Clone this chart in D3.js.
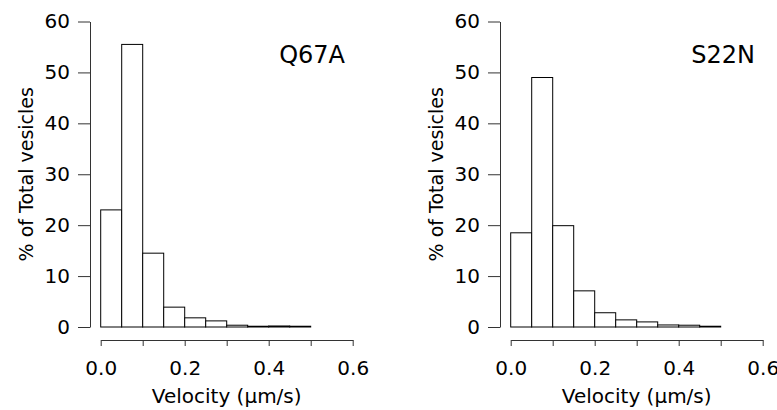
<!DOCTYPE html>
<html>
<head>
<meta charset="utf-8">
<script src="https://cdn.jsdelivr.net/npm/d3@7"></script>
<style>
  body { margin: 0; background: #fff; }
  svg { display: block; font-family: "DejaVu Sans", sans-serif; }
</style>
</head>
<body>
<svg id="chart" width="777" height="410"></svg>
<script>
// histogram bins (velocity, um/s), bin width 0.05
const binStarts = [0, 0.05, 0.1, 0.15, 0.2, 0.25, 0.3, 0.35, 0.4, 0.45];
const binWidth = 0.05;
const q67aValues = [23.0, 55.5, 14.5, 3.9, 1.8, 1.2, 0.35, 0.15, 0.2, 0.15];
const s22nValues = [18.5, 49.0, 19.9, 7.1, 2.8, 1.4, 1.0, 0.4, 0.35, 0.15];
const xTicks = [0, 0.1, 0.2, 0.3, 0.4, 0.5, 0.6];
const yTicks = [0, 10, 20, 30, 40, 50, 60];

const panels = [
    { name: "Q67A", values: q67aValues, offset: 0 },
    { name: "S22N", values: s22nValues, offset: 410 },
];

const svg = d3.select("#chart");

panels.forEach((p) => {
    const g = svg.append("g").attr("transform", `translate(${p.offset},0)`);

    const x = d3.scaleLinear().domain([0, 0.6]).range([100.7, 352.7]);
    const y = d3.scaleLinear().domain([0, 60]).range([327, 21.5]);

    // bars
    g.selectAll("rect")
        .data(p.values)
        .enter()
        .append("rect")
        .attr("x", (d, i) => x(binStarts[i]))
        .attr("width", (d, i) => x(binStarts[i] + binWidth) - x(binStarts[i]))
        .attr("y", (d) => y(d))
        .attr("height", (d) => y(0) - y(d))
        .attr("fill", "#fff")
        .attr("stroke", "#000")
        .attr("stroke-width", 1);

    // y axis
    const yAxis = g
        .append("g")
        .attr("transform", "translate(90,0)")
        .call(d3.axisLeft(y).tickValues(yTicks).tickSize(12).tickPadding(8).tickSizeOuter(0));

    // x axis
    const xAxis = g
        .append("g")
        .attr("transform", "translate(0,340)")
        .call(
            d3
                .axisBottom(x)
                .tickValues(xTicks)
                .tickSize(6)
                .tickPadding(15)
                .tickSizeOuter(0)
                .tickFormat((d, i) => (i % 2 === 0 ? d3.format(".1f")(d) : ""))
        );

    [yAxis, xAxis].forEach((a) => {
        a.selectAll("path, line").attr("stroke", "#333").attr("stroke-width", 1);
        a.selectAll("text")
            .attr("fill", "#000")
            .style("font-size", "20px")
            .style("font-family", "DejaVu Sans, sans-serif");
    });

    // axis titles
    g.append("text")
        .attr("transform", `translate(33,${(y(0) + y(60)) / 2}) rotate(-90)`)
        .attr("text-anchor", "middle")
        .style("font-size", "19px")
        .text("% of Total vesicles");

    g.append("text")
        .attr("x", (x(0) + x(0.6)) / 2)
        .attr("y", 403)
        .attr("text-anchor", "middle")
        .style("font-size", "20px")
        .text("Velocity (µm/s)");

    // panel label
    g.append("text")
        .attr("x", 345)
        .attr("y", 63)
        .attr("text-anchor", "end")
        .style("font-size", "24px")
        .text(p.name);
});
</script>
</body>
</html>
